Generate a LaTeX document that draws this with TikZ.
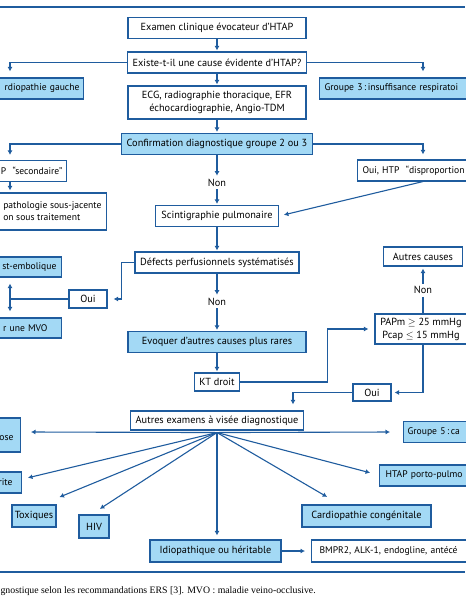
\documentclass[tikz,border=0pt]{standalone}
\usepackage{fontspec}
\setmainfont{PT Sans}
\newfontfamily\capfont{Liberation Serif}
\usetikzlibrary{arrows.meta}
\definecolor{bord}{HTML}{1F5C9E}
\definecolor{fond}{HTML}{A3D9F5}

\begin{document}
\begin{tikzpicture}[x=1pt,y=-1pt,->,>={Latex[length=4.5pt,width=5pt]},shorten >=1pt,
                    line width=1.1pt,color=bord,font=\fontsize{10.3}{13}\selectfont]
  \tikzstyle{wbox}=[draw=bord,fill=white,text=black,inner xsep=5pt,inner ysep=1pt,minimum height=21pt]
  \tikzstyle{bbox}=[wbox,fill=fond]
  \tikzstyle{cutl}=[anchor=east,text width=150pt,align=right,font=\fontsize{9.6}{12}\selectfont]
  \tikzstyle{cutr}=[anchor=west,text width=150pt,font=\fontsize{9.6}{12}\selectfont]
  \tikzstyle{lab}=[text=black,inner sep=2pt]

  \useasboundingbox (0,0) rectangle (466,600);
  \clip (0,0) rectangle (466,600);
  \coordinate (xl) at (10,0);
  \coordinate (xr) at (423,0);

  % cadre
  \draw[-,line width=1.2pt] (0,7) -- (466,7);
  \draw[-,line width=1.2pt] (0,572) -- (466,572);

  \node[wbox,minimum width=178pt] (exam) at (217,28) {Examen clinique évocateur d’HTAP};
  \node[wbox,minimum width=178pt] (cause) at (217,62.5) {Existe-t-il une cause évidente d’HTAP?};
  \node[bbox,cutl,inner xsep=4pt] (cardg) at (84,88.5) {rdiopathie gauche};
  \node[bbox,cutr,inner xsep=5pt] (grp3) at (319,88.5) {Groupe 3\,:\,insuffisance respiratoi};
  \node[wbox,minimum width=178pt,minimum height=33pt,align=center] (ecg) at (217,102.5)
       {ECG, radiographie thoracique, EFR\\échocardiographie, Angio-TDM};
  \node[bbox,minimum width=189pt] (confirm) at (217,144) {Confirmation diagnostique groupe 2 ou 3};
  \node[wbox,cutl,inner xsep=4pt] (sec) at (67,171) {P ~“secondaire”};
  \node[wbox,cutl,align=left,text width=,inner xsep=5pt,minimum height=37pt] (trait) at (107,211.5)
       {pathologie sous-jacente\\on sous traitement};
  \node[wbox,cutr,inner xsep=5pt] (disp) at (357,170.5) {Oui, HTP ~“disproportion};
  \node[lab] (non1) at (217,183) {Non};
  \node[wbox,minimum width=123pt] (scinti) at (217,216) {Scintigraphie pulmonaire};
  \node[wbox,minimum width=164pt] (defect) at (217,262.5) {Défects perfusionnels systématisés};
  \node[bbox,cutl,inner xsep=5pt,minimum height=20pt] (emb) at (62,267) {st-embolique};
  \node[wbox,minimum width=38pt,minimum height=18pt] (oui1) at (88,299) {Oui};
  \node[bbox,cutl,inner xsep=14pt,minimum height=20pt] (mvo) at (62,328) {r une MVO};
  \node[lab] (non2) at (217,302) {Non};
  \node[bbox,minimum width=178pt] (rares) at (217,342) {Evoquer d’autres causes plus rares};
  \node[wbox,minimum width=44pt,minimum height=18pt] (kt) at (217,382) {KT droit};
  \node[wbox,minimum width=79pt,minimum height=19pt] (autres) at (423,256.5) {Autres causes};
  \node[lab] (non3) at (423,290) {Non};
  \node[wbox,minimum width=92pt,minimum height=30pt,align=center] (pap) at (421,329)
       {PAPm $\geq$ 25 mmHg\\Pcap $\leq$ 15 mmHg};
  \node[wbox,minimum width=38pt,minimum height=17pt] (oui2) at (372,392.5) {Oui};
  \node[wbox,minimum width=173pt,minimum height=19pt] (exam2) at (217,420.5) {Autres examens à visée diagnostique};
  \node[bbox,cutl,inner xsep=7pt,minimum height=34pt] (sarc) at (21,435) {\mbox{}\\ose};
  \node[bbox,cutr,inner xsep=4pt] (g5) at (403,432) {Groupe 5\,:\,ca};
  \node[bbox,cutl,inner xsep=9pt] (rite) at (22,482.5) {rite};
  \node[bbox,cutr,inner xsep=6pt] (hp) at (379,475.5) {HTAP porto-pulmo};
  \node[bbox,minimum width=44pt,inner xsep=2pt,minimum height=22pt] (tox) at (34,516) {Toxiques};
  \node[bbox,minimum width=30pt,inner xsep=2pt,minimum height=23pt] (hiv) at (94,526.5) {HIV};
  \node[bbox,minimum width=129pt,minimum height=22pt] (cc) at (366.5,516) {Cardiopathie congénitale};
  \node[bbox,minimum width=131pt,minimum height=22pt] (idio) at (215.5,551) {Idiopathique ou héritable};
  \node[wbox,cutr,inner xsep=8pt,minimum height=22pt] (bmpr) at (311,551) {BMPR2, ALK-1, endogline, antécé};

  \node[text=black,anchor=west,inner sep=0pt,font=\capfont\fontsize{9.8}{11}\selectfont] (legende) at (0,591)
       {gnostique selon les recommandations ERS [3]. MVO : maladie veino-occlusive.};

  \path (exam) edge (cause)
        (cause) edge (ecg)
        (ecg) edge (confirm)
        (confirm) edge (non1)
        (non1) edge (scinti)
        (scinti) edge (defect)
        (defect) edge (non2)
        (non2) edge (rares)
        (rares) edge (kt);

  \draw[shorten >=6pt] (cause.west) -| (cardg.north -| xl);
  \draw[shorten >=6pt] (cause.east) -| (grp3.north -| xr);
  \draw[shorten >=5pt] (confirm.west) -| (sec.north -| xl);
  \draw[shorten >=5pt] (confirm.east) -| (disp.north -| xr);
  \draw[shorten >=2pt] (sec.south -| xl) -- (trait.north -| xl);
  \draw[shorten >=5pt] (disp.south -| xr) -- (scinti.east);
  \draw[shorten >=6pt] (defect.west) -- ++(-13,0) |- (oui1.east);
  \draw[shorten >=6pt] (oui1.west) -| (emb.south -| xl);
  \draw[shorten >=6pt] (oui1.west) -| (mvo.north -| xl);
  \draw[shorten >=6pt] (kt.east) -- ++(87,0) |- (pap.west);
  \draw[-] (pap.north -| xr) -- (non3);
  \draw[shorten >=2pt] (non3) -- (autres.south -| xr);
  \draw[shorten >=3pt] (pap.south -| xr) |- (oui2.east);
  \draw[shorten >=6pt] (oui2.west) -| ([xshift=76pt]exam2.north);

  % eventail
  \coordinate (fan) at ([yshift=-2pt]exam2.south);
  \path (fan) edge ([xshift=9pt,yshift=3pt]sarc.east)
              edge ([xshift=5pt,yshift=4.5pt]rite.east)
              edge ([xshift=2pt,yshift=7pt]tox.north east)
              edge ([xshift=5pt,yshift=5pt]hiv.north)
              edge ([xshift=1.5pt,yshift=3pt]idio.north)
              edge ([xshift=-38.5pt,yshift=7pt]cc.north)
              edge ([xshift=-8pt,yshift=2.5pt]hp.west)
              edge ([xshift=-12pt]g5.west);
  \draw[shorten >=6pt] (idio.east) -- (bmpr.west);
\end{tikzpicture}
\end{document}
